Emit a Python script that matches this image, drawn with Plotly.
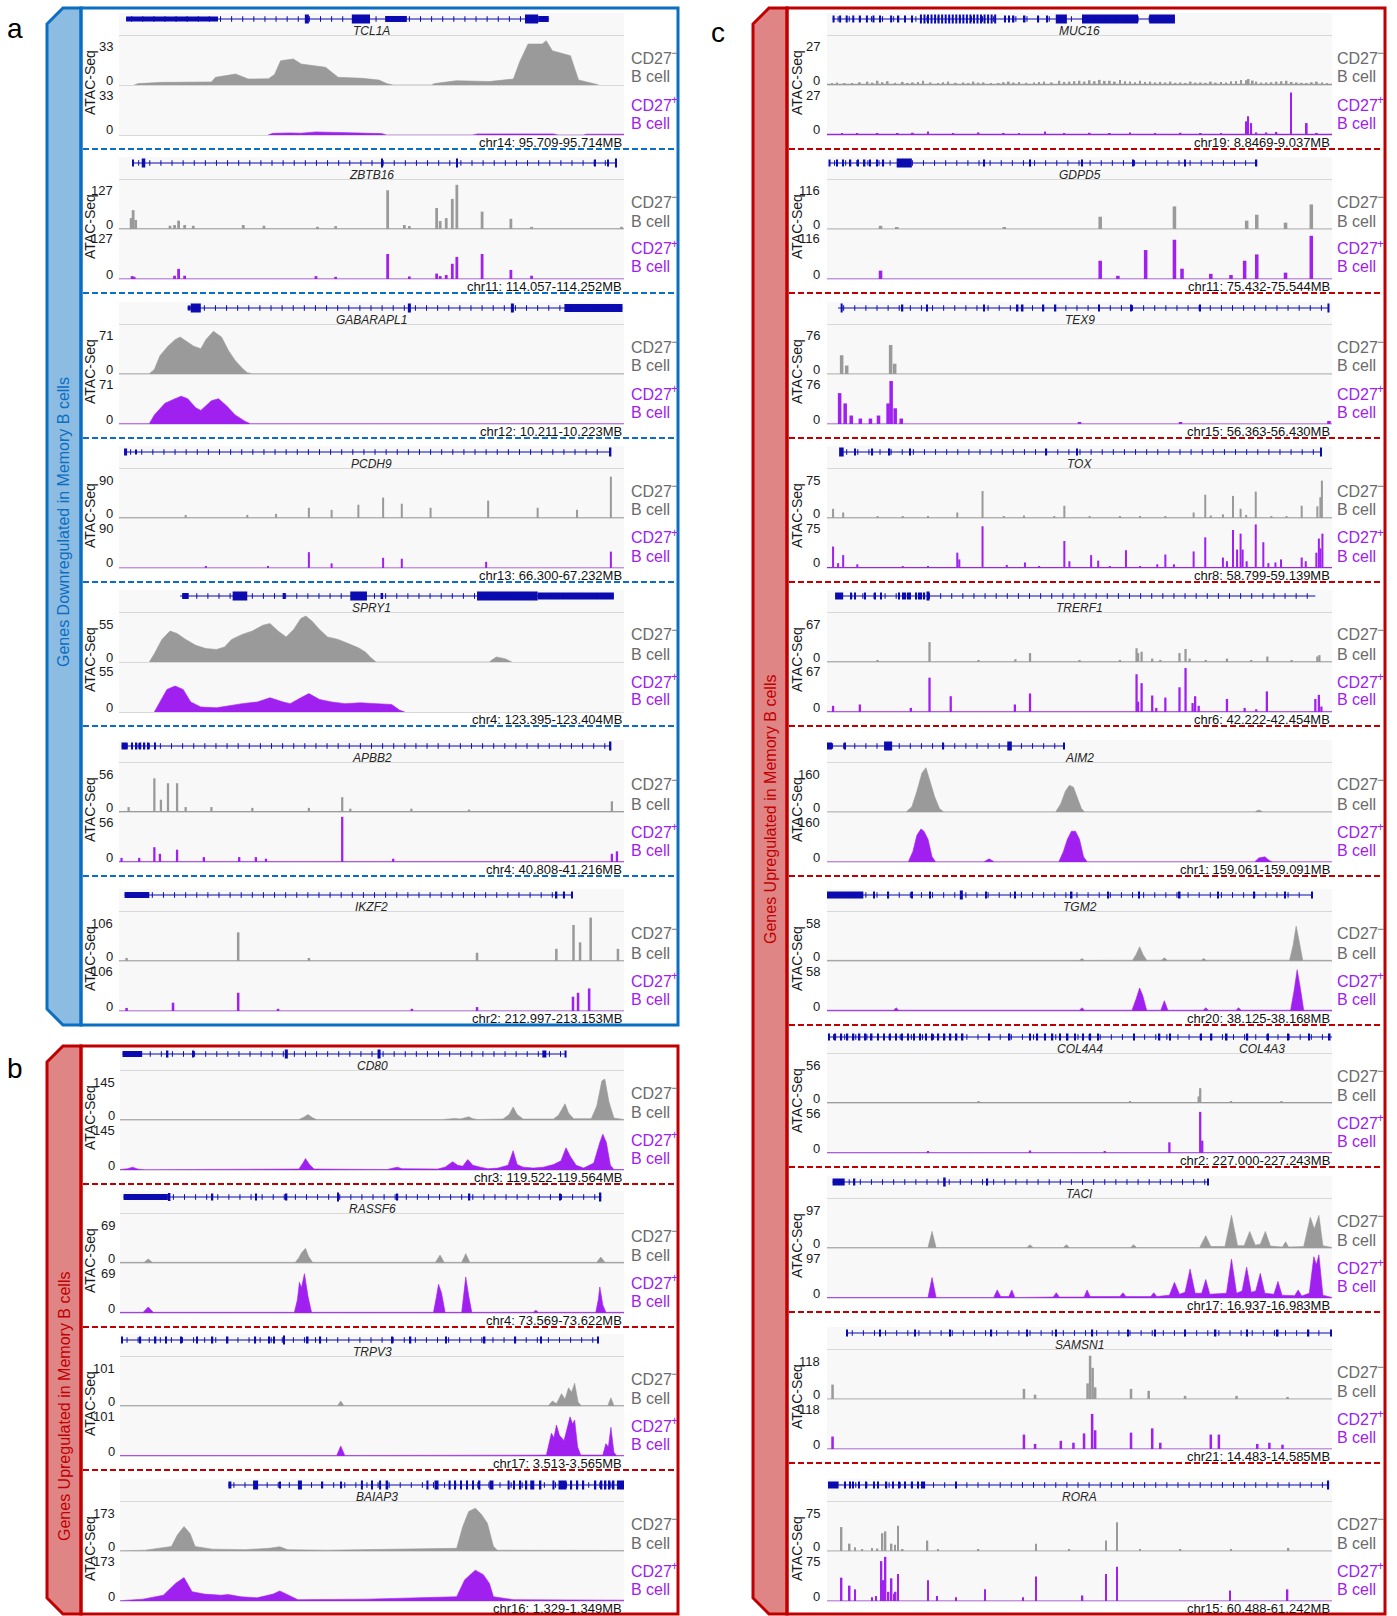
import numpy as np
import plotly.graph_objects as go

# ------------------------------------------------------------------
# ATAC-Seq coverage around selected genes, CD27- vs CD27+ B cells.
# Positions are percent of the displayed locus window (0-100).
# Coverage values are in track units (0 .. track scale).
# Exons: (start, end, drawn height in px).
# ------------------------------------------------------------------

# ----- panel a: genes downregulated in memory B cells -----
TCL1A_LOCUS = "chr14: 95.709-95.714MB"
TCL1A_SCALE = 33
TCL1A_SPAN = (1.4, 85.1)
TCL1A_EXONS = [(1.4, 19.6, 5), (36.8, 37.6, 9), (46.1, 49.7, 9), (52.7, 57.0, 6),
               (80.4, 83.0, 9), (83.0, 85.1, 6)]
TCL1A_NEG = [(3.0, 0), (3.8, 1), (8.6, 1.9), (18.3, 2.2), (19.1, 5.5), (23.1, 7.9), (25.6, 4.3),
             (29.6, 4.5), (30.8, 7.5), (32.0, 17.4), (34.5, 18.7), (36.1, 15), (40.9, 12.7),
             (43.4, 5.5), (48.2, 4.8), (51.5, 3.5), (53.0, 1), (54.3, 0), (61.9, 0), (62.5, 1),
             (66.8, 3.1), (73.3, 2.5), (78.1, 4.3), (79.3, 16.3), (81.0, 29.4), (83.8, 29.4),
             (84.6, 31.8), (85.8, 24.6), (89.4, 21), (91.0, 3.6), (94.3, 0.7), (95.0, 0)]
TCL1A_POS = [(29.5, 0), (30.5, 1.2), (34, 1.5), (36, 1.3), (39, 2.2), (42, 1.8), (46, 1.5),
             (49, 1.2), (52, 1), (53, 0), (70, 0), (71, 0.8), (86, 0.8), (87, 0), (92, 0),
             (92.5, 0.6), (100, 0.6)]

ZBTB16_LOCUS = "chr11: 114.057-114.252MB"
ZBTB16_SCALE = 127
ZBTB16_SPAN = (2.8, 98.5)
ZBTB16_EXONS = [(2.6, 2.9, 7), (4.5, 5.2, 9), (51.9, 52.2, 9), (66.8, 67.1, 9),
                (94.1, 94.4, 7), (96.8, 97.0, 7), (98.3, 98.6, 9)]
ZBTB16_NEG = [(2.4, 30), (2.8, 52), (3.3, 25), (10.1, 9), (11.0, 11), (11.8, 23), (13.0, 11),
              (14.7, 9), (24.6, 11), (28.7, 9), (39.3, 6), (42.9, 8), (53.2, 107), (56.5, 11),
              (57.5, 8), (62.9, 58), (63.6, 22), (64.8, 30), (66.0, 83), (66.9, 122), (71.9, 48),
              (77.6, 28), (81.7, 6), (99.5, 6)]
ZBTB16_POS = [(2.6, 8), (3.0, 6), (11.0, 9), (11.8, 28), (13.0, 9), (39.0, 8), (42.9, 6),
              (53.2, 69), (57.5, 7), (62.9, 15), (63.6, 8), (64.8, 11), (66.0, 42), (66.9, 61),
              (71.9, 69), (77.6, 25), (81.7, 9)]
ZBTB16_FLOOR = (2, 1.5)

GABARAPL1_LOCUS = "chr12: 10.211-10.223MB"
GABARAPL1_SCALE = 71
GABARAPL1_SPAN = (13.6, 99.7)
GABARAPL1_EXONS = [(13.6, 14.2, 5), (14.2, 16.2, 9), (57.2, 57.8, 9), (77.6, 78.2, 9),
                   (88.2, 99.7, 8)]
GABARAPL1_NEG = [(0, 0.5), (6.0, 0.5), (7.0, 7), (8.1, 28), (9.7, 43), (11.1, 53), (12.1, 57),
                 (13.2, 51), (14.8, 43), (16.2, 39), (17.2, 53), (18.7, 66), (20.3, 57), (21.7, 36),
                 (23.0, 21), (24.4, 9), (25.4, 2), (26.4, 0.5), (100, 0.5)]
GABARAPL1_POS = [(0, 0.5), (6.0, 0.5), (7.0, 14), (9.1, 32), (11.1, 39), (12.3, 43), (13.6, 39),
                 (15.2, 25), (16.2, 21), (18.3, 36), (19.7, 39), (21.3, 28), (23.0, 14), (25.0, 4),
                 (26.0, 0.5), (100, 0.5)]

PCDH9_LOCUS = "chr13: 66.300-67.232MB"
PCDH9_SCALE = 90
PCDH9_SPAN = (1.2, 97.4)
PCDH9_EXONS = [(1.0, 1.6, 7), (3.2, 3.5, 5), (97.2, 97.5, 9)]
PCDH9_NEG = [(13.2, 6), (25.4, 6), (31.1, 8), (37.6, 20), (42.1, 16), (47.4, 26), (52.3, 40),
             (56.0, 28), (61.7, 20), (73.1, 34), (82.9, 20), (90.7, 16), (97.4, 81)]
PCDH9_POS = [(17.2, 4), (29.5, 4), (37.6, 31), (42.1, 9), (52.3, 20), (56.0, 18), (72.7, 12),
             (97.4, 32)]
PCDH9_FLOOR = (1.5, 1)

SPRY1_LOCUS = "chr4: 123.395-123.404MB"
SPRY1_SCALE = 55
SPRY1_SPAN = (12.1, 98.0)
SPRY1_EXONS = [(12.5, 13.8, 6), (22.5, 25.4, 9), (32.4, 32.9, 6), (45.8, 49.1, 9),
               (51.8, 52.3, 6), (70.9, 82.9, 9), (82.9, 98.0, 7)]
SPRY1_NEG = [(6.0, 0), (7.0, 10), (8.5, 27), (10.1, 37), (11.5, 34), (13.2, 27), (15.2, 20),
             (17.2, 16), (19.3, 15), (20.9, 18), (22.3, 27), (24.4, 33), (26.4, 37), (28.5, 44),
             (29.9, 46), (31.5, 37), (33.1, 30), (34.6, 39), (36.0, 52), (37.0, 55), (38.2, 49),
             (39.7, 39), (41.3, 30), (43.4, 27), (45.4, 22), (47.4, 17), (48.8, 12), (49.9, 5),
             (50.9, 0), (73.3, 0), (74.7, 6), (76.4, 4), (77.8, 0)]
SPRY1_POS = [(7.0, 0), (8.1, 12), (9.5, 27), (11.1, 31), (12.7, 27), (14.2, 12), (16.2, 6),
             (19.3, 5), (21.3, 7), (24.4, 10), (27.4, 12), (29.9, 17), (32.5, 12), (33.9, 10),
             (36.0, 17), (37.6, 22), (39.7, 15), (42.1, 12), (44.8, 10), (47.8, 11), (50.9, 10),
             (54.0, 9), (55.6, 2), (56.6, 0)]

APBB2_LOCUS = "chr4: 40.808-41.216MB"
APBB2_SCALE = 56
APBB2_SPAN = (0.5, 97.4)
APBB2_EXONS = [(0.5, 1.7, 7), (2.4, 2.7, 7), (3.3, 3.6, 7), (4.1, 4.4, 7), (4.9, 5.2, 7),
               (5.7, 6.0, 7), (7.0, 7.2, 7), (97.2, 97.5, 9)]
APBB2_NEG = [(1.9, 6), (7.0, 41), (8.3, 15), (9.7, 35), (11.5, 35), (13.2, 6), (18.3, 6),
             (26.4, 5), (37.6, 5), (44.2, 18), (45.8, 4), (57.9, 4), (69.3, 3), (97.6, 13)]
APBB2_POS = [(0.5, 5), (4.0, 5), (7.0, 18), (8.1, 10), (11.5, 15), (16.8, 6), (23.8, 6),
             (27.1, 6), (29.1, 4), (44.2, 55), (54.3, 4), (97.6, 10), (98.6, 13)]
APBB2_FLOOR = (1.2, 1)

IKZF2_LOCUS = "chr2: 212.997-213.153MB"
IKZF2_SCALE = 106
IKZF2_SPAN = (1.1, 89.9)
IKZF2_EXONS = [(1.1, 6.0, 6), (86.5, 86.8, 7), (88.0, 88.3, 7), (89.6, 89.9, 7)]
IKZF2_NEG = [(1.5, 7), (23.6, 66), (37.6, 7), (70.9, 19), (86.6, 28), (90.0, 83), (91.3, 43),
             (93.4, 100), (98.8, 28)]
IKZF2_POS = [(1.5, 7), (10.7, 19), (23.6, 42), (31.5, 5), (58.0, 5), (70.9, 9), (89.9, 33),
             (90.9, 42), (93.1, 52)]
IKZF2_FLOOR = (1.5, 1)

# ----- panel b: genes upregulated in memory B cells -----
CD80_LOCUS = "chr3: 119.522-119.564MB"
CD80_SCALE = 145
CD80_SPAN = (0.5, 88.5)
CD80_EXONS = [(0.5, 4.4, 6), (9.3, 9.6, 7), (14.3, 14.6, 7), (32.7, 33.3, 9), (51.1, 51.7, 9),
              (83.8, 84.6, 7), (88.2, 88.6, 7)]
CD80_NEG = [(0, 1.5), (35.5, 1.5), (36.5, 9), (37.3, 17), (38.2, 7), (39, 1.5), (64, 1.5),
            (65.5, 4), (66.5, 5), (67.5, 3), (68.5, 6), (69.2, 10), (70, 4), (71, 1.5), (76, 3),
            (77.2, 17), (78, 41), (78.8, 17), (80, 3), (86, 3), (87, 15), (88.3, 51), (89, 22),
            (90, 4), (93.5, 4), (94.6, 44), (95.6, 123), (96.2, 129), (97, 58), (98, 6),
            (100, 1.5)]
CD80_POS = [(0, 1.5), (1.5, 4), (2.5, 9), (3.5, 3), (5, 1), (35.5, 3), (36.3, 22), (36.8, 36),
            (37.6, 17), (38.5, 3), (53, 1.5), (55, 9), (56, 4), (63, 3), (64.5, 9), (66, 26),
            (67, 15), (68, 12), (69, 33), (70, 15), (71.5, 9), (73, 4), (75, 6), (77, 15),
            (78, 61), (78.8, 17), (80, 9), (82, 6), (84, 9), (86, 17), (87.5, 29), (88.5, 70),
            (89.3, 44), (90.5, 15), (92, 6), (94, 22), (95.2, 87), (95.8, 113), (96.5, 87),
            (97.3, 15), (98, 1.5), (100, 1.5)]

RASSF6_LOCUS = "chr4: 73.569-73.622MB"
RASSF6_SCALE = 69
RASSF6_SPAN = (0.7, 95.5)
RASSF6_EXONS = [(0.7, 9.5, 6), (9.5, 10.0, 8), (18.2, 18.5, 7), (26.8, 27.1, 7), (32.9, 33.2, 7),
                (43.1, 43.4, 9), (54.9, 55.2, 7), (69.2, 69.5, 7), (87.2, 87.5, 7),
                (95.2, 95.5, 9)]
RASSF6_NEG = [(0, 1), (4.8, 1), (5.6, 6), (6.4, 1), (34.8, 1), (35.5, 8), (36.0, 15), (36.8, 22),
              (37.4, 10), (38.2, 1), (62.6, 1), (63.5, 12), (64.3, 1), (67.8, 1), (68.6, 14),
              (69.4, 1), (94.6, 1), (95.4, 9), (96.2, 1), (100, 1)]
RASSF6_POS = [(0, 1), (4.6, 1), (5.6, 9), (6.6, 1), (34.6, 1), (35.2, 20), (35.6, 46), (36.0, 38),
              (36.6, 59), (37.3, 25), (38, 1), (62.2, 1), (62.8, 25), (63.2, 43), (63.8, 30),
              (64.5, 1), (67.8, 1), (68.3, 35), (68.6, 54), (69.2, 25), (69.8, 1), (82.0, 1),
              (82.5, 4), (83.0, 1), (94.4, 1), (94.9, 20), (95.2, 39), (95.8, 12), (96.4, 1),
              (100, 1)]

TRPV3_LOCUS = "chr17: 3.513-3.565MB"
TRPV3_SCALE = 101
TRPV3_SPAN = (0.3, 94.9)
TRPV3_EXONS = [(0.2, 0.5, 7), (3.9, 4.2, 7), (6.9, 7.2, 7), (9.0, 9.3, 7), (12.0, 12.3, 7),
               (15.1, 15.4, 7), (18.2, 18.5, 7), (21.2, 21.5, 7), (26.7, 27.0, 7),
               (29.4, 29.7, 7), (30.4, 30.7, 7), (32.4, 32.7, 9), (37.1, 37.4, 7),
               (39.6, 39.9, 7), (53.9, 54.2, 7), (57.5, 57.8, 7), (64.5, 64.8, 7),
               (72.2, 72.5, 7), (78.3, 78.6, 7), (83.4, 83.7, 7), (94.7, 95.0, 7)]
TRPV3_NEG = [(0, 1), (43.2, 1), (43.8, 11), (44.4, 1), (85.0, 1), (85.8, 11), (86.6, 5),
             (87.6, 27), (88.3, 15), (89.0, 40), (89.6, 30), (90.2, 50), (90.9, 8), (91.5, 1),
             (96.8, 1), (97.4, 18), (98.0, 1), (100, 1)]
TRPV3_POS = [(0, 1), (43.0, 1), (43.8, 22), (44.6, 1), (84.6, 2), (85.6, 50), (86.1, 40),
             (86.6, 68), (87.2, 45), (88.1, 34), (88.7, 60), (89.3, 86), (89.8, 70), (90.2, 79),
             (90.8, 20), (91.4, 2), (95.8, 2), (96.4, 27), (96.9, 20), (97.4, 63), (98.0, 8),
             (98.5, 1), (100, 1)]

BAIAP3_LOCUS = "chr16: 1.329-1.349MB"
BAIAP3_SCALE = 173
BAIAP3_SPAN = (21.5, 100)
BAIAP3_EXONS = [(21.5, 22.1, 7), (26.4, 27.4, 9), (31.6, 31.9, 7), (35.3, 36.1, 9),
                (40.0, 40.3, 7), (43.7, 44.0, 7), (47.8, 48.2, 9), (49.8, 50.2, 9),
                (51.4, 51.8, 9), (52.7, 53.2, 9), (60.8, 61.2, 9), (62.4, 63.2, 9),
                (65.2, 65.6, 9), (66.3, 66.6, 9), (67.5, 67.8, 9), (68.7, 69.0, 9),
                (69.9, 70.2, 9), (71.2, 71.5, 9), (73.3, 74.1, 9), (76.9, 77.3, 9),
                (78.0, 78.3, 9), (79.3, 79.6, 9), (80.5, 80.8, 9), (81.4, 82.2, 9),
                (83.3, 83.6, 9), (85.8, 86.2, 9), (87.0, 88.6, 9), (89.4, 89.7, 9),
                (90.6, 90.9, 9), (91.8, 92.1, 9), (94.2, 94.5, 9), (95.4, 95.7, 9),
                (96.2, 96.5, 9), (97.0, 97.3, 9), (97.8, 98.1, 9), (98.6, 100, 9)]
BAIAP3_NEG = [(0, 1), (5.0, 3), (10.2, 17), (11.4, 61), (12.7, 92), (13.9, 66), (14.9, 17),
              (18.3, 7), (24.8, 5), (29.6, 10), (31.7, 16), (33.3, 5), (40.9, 3), (66.8, 10),
              (68.0, 92), (69.2, 149), (70.5, 161), (71.7, 138), (72.9, 104), (74.1, 17),
              (74.9, 3), (100, 2)]
BAIAP3_POS = [(0, 1), (4.6, 7), (8.6, 22), (11.0, 66), (12.7, 88), (14.3, 35), (16.7, 26),
              (20.0, 22), (21.5, 24), (24.0, 16), (27.2, 12), (30.4, 26), (31.7, 38), (33.3, 22),
              (35.3, 5), (49.0, 7), (66.8, 16), (68.4, 80), (70.5, 116), (72.1, 99), (73.3, 66),
              (74.1, 16), (78.1, 5), (100, 3)]

# ----- panel c: genes upregulated in memory B cells -----
MUC16_LOCUS = "chr19: 8.8469-9.037MB"
MUC16_SCALE = 27
MUC16_SPAN = (1.1, 68.9)
MUC16_EXONS = [(1.1, 1.5, 7), (2.4, 2.8, 7), (3.7, 4.1, 7), (5.0, 5.4, 7), (6.3, 6.7, 7),
               (7.7, 8.1, 7), (9.0, 9.4, 7), (10.3, 10.7, 7), (12.5, 12.9, 7), (14.0, 14.3, 7),
               (15.3, 15.6, 7), (16.7, 17.0, 7), (18.4, 18.8, 9), (19.1, 19.5, 9),
               (19.8, 20.2, 9), (20.5, 20.9, 9), (21.2, 21.6, 9), (21.9, 22.3, 9),
               (22.6, 23.0, 9), (23.3, 23.7, 9), (24.0, 24.4, 9), (24.7, 25.1, 9),
               (25.4, 25.8, 9), (26.1, 26.5, 9), (26.8, 27.2, 9), (27.5, 27.9, 9),
               (28.2, 28.6, 9), (28.9, 29.3, 9), (29.6, 30.0, 9), (30.3, 30.7, 9),
               (31.0, 31.4, 9), (31.7, 32.1, 9), (32.4, 32.8, 9), (33.1, 33.5, 9),
               (35.1, 35.4, 7), (35.9, 36.2, 7), (36.8, 37.1, 7), (39.0, 39.3, 7),
               (41.7, 42.0, 7), (43.4, 43.7, 7), (45.3, 47.5, 9), (50.5, 61.6, 9),
               (63.8, 68.9, 9)]
MUC16_NEG = [(1, 1.2), (2, 1.5), (3.5, 1), (5, 1.2), (6.5, 1.6), (8, 2), (9, 1.4), (10, 2.5),
             (11, 1.6), (12, 2.2), (13.5, 1.3), (15, 1.8), (16, 1.2), (17, 1.5), (18, 1.8),
             (19, 2.5), (20.5, 1.5), (22, 1.2), (23, 1.6), (24, 2), (25.5, 1.3), (27, 1.5),
             (28, 1.2), (29, 2), (30, 1.4), (31, 1.5), (32.5, 1.1), (34, 1.2), (35, 1.6),
             (36, 2), (37, 1.4), (38, 1.8), (39.5, 1.3), (41, 1.5), (42, 1.7), (43, 2),
             (44.5, 1.5), (46, 2.5), (47, 1.8), (48, 2), (49, 2.2), (50, 2.5), (51, 2),
             (52, 2.8), (53, 2.2), (54, 3), (55, 2.4), (56, 2.5), (57, 2), (58, 3), (59, 2.2),
             (60, 2), (61, 1.6), (62, 2.5), (63, 1.8), (64, 2), (65, 1.5), (66, 1.8), (67, 1.5),
             (68, 2), (69, 1.3), (70, 1.5), (71, 1.2), (72, 2), (73, 1.4), (74, 1.5), (75, 1.3),
             (76, 2), (77, 1.4), (78, 1.8), (79, 1.5), (80, 2.2), (81, 2.4), (82, 3), (83, 2.8),
             (83.5, 3.5), (84.3, 2.6), (85, 2), (86, 1.4), (87, 1.5), (88, 1.6), (89, 2),
             (90, 2.2), (91, 2.5), (92, 1.8), (93, 1.5), (94, 1.3), (95, 1.2), (96, 1.6),
             (97, 2), (98, 1.4), (99, 1.2)]
MUC16_POS = [(3, 1), (6, 1.1), (10, 1.2), (14, 1), (17, 1.3), (20, 2), (25, 1.2), (30, 1.5),
             (35, 1.2), (38, 1.1), (43.2, 2), (47, 1.2), (52, 1.3), (56, 1.1), (60, 1.5),
             (65, 1.2), (70, 1.3), (74, 1.1), (78, 1.2), (83.1, 8), (83.4, 11), (84.0, 7),
             (85, 1.5), (87, 1.5), (89, 1.8), (91.9, 25), (95.0, 7), (97, 1.2)]
MUC16_FLOOR = (0.8, 0.8)

GDPD5_LOCUS = "chr11: 75.432-75.544MB"
GDPD5_SCALE = 116
GDPD5_SPAN = (0.4, 85.1)
GDPD5_EXONS = [(0.3, 0.7, 7), (1.8, 2.1, 7), (3.0, 3.3, 7), (4.5, 4.8, 7), (6.0, 6.3, 7),
               (7.3, 7.6, 7), (8.4, 8.7, 7), (9.8, 10.1, 7), (11.0, 11.3, 7), (13.8, 16.8, 9),
               (31.0, 31.3, 7), (40.1, 40.4, 7), (50.3, 50.6, 7), (60.5, 60.8, 7),
               (70.7, 71.0, 7), (84.9, 85.2, 7)]
GDPD5_NEG = [(10.6, 8), (13.8, 5), (35.1, 5), (54.1, 31), (68.8, 57), (83.1, 21), (85.1, 36),
             (90.8, 16), (95.9, 62)]
GDPD5_POS = [(10.6, 21), (54.1, 46), (57.6, 8), (63.1, 73), (68.8, 99), (70.3, 26), (76.0, 13),
             (80.0, 10), (82.7, 46), (85.1, 62), (90.8, 16), (95.9, 109)]
GDPD5_FLOOR = (1.5, 1.5)

TEX9_LOCUS = "chr15: 56.363-56.430MB"
TEX9_SCALE = 76
TEX9_SPAN = (2.2, 99.4)
TEX9_EXONS = [(2.7, 3.1, 9), (14.8, 15.1, 7), (19.7, 20.0, 7), (30.9, 31.2, 7), (37.6, 37.9, 7),
              (38.6, 38.9, 7), (42.7, 43.0, 7), (45.1, 45.4, 7), (53.7, 54.0, 7),
              (60.0, 60.3, 7), (73.7, 74.0, 7), (99.1, 99.5, 9)]
TEX9_NEG = [(2.9, 31), (3.9, 14), (12.6, 48), (13.4, 17)]
TEX9_POS = [(2.5, 51), (3.6, 34), (4.8, 14), (6.6, 9), (8.6, 9), (10.2, 14), (12.1, 34),
            (12.7, 71), (13.5, 26), (14.7, 9), (50, 2), (70, 2), (99.4, 5)]
TEX9_FLOOR = (0.8, 1)

TOX_LOCUS = "chr8: 58.799-59.139MB"
TOX_SCALE = 75
TOX_SPAN = (2.8, 97.9)
TOX_EXONS = [(2.4, 3.3, 9), (5.4, 5.6, 7), (8.9, 9.1, 7), (12.3, 12.5, 7), (16.3, 16.5, 7),
             (43.2, 43.4, 7), (49.4, 49.6, 7), (97.8, 98.0, 9)]
TOX_NEG = [(1.2, 15), (3.2, 9), (10, 3), (15, 2.5), (20, 3), (25.8, 9), (30.8, 44), (35, 3),
           (39.0, 4), (45, 2.5), (47.0, 20), (52, 3), (58, 2), (62, 3), (67, 3), (72.6, 9),
           (74.9, 38), (76, 4), (78.4, 6), (80.4, 36), (81.9, 15), (83, 5), (84.9, 43), (88, 3),
           (91, 3), (94.0, 20), (97.1, 19), (97.7, 34), (98.0, 61)]
TOX_POS = [(1.2, 35), (2.2, 8), (3.2, 21), (6.0, 6), (15, 3), (20, 3), (25.8, 25), (26.2, 14),
           (30.8, 68), (35.6, 5), (39.2, 9), (42, 3), (47.0, 44), (48.0, 11), (52.3, 21),
           (53.7, 12), (56, 3), (59.2, 29), (62, 3), (65.4, 6), (67.0, 22), (68.7, 6), (72.6, 27),
           (74.9, 50), (78.4, 17), (79.2, 11), (80.4, 62), (81.2, 30), (81.9, 56), (82.3, 30),
           (83.1, 11), (84.9, 71), (86.4, 42), (87.4, 8), (88.8, 9), (89.9, 14), (94.0, 17),
           (94.8, 11), (96.9, 25), (97.4, 48), (97.7, 32), (98.1, 56)]
TOX_FLOOR = (1.2, 1.5)

TRERF1_LOCUS = "chr6: 42.222-42.454MB"
TRERF1_SCALE = 67
TRERF1_SPAN = (1.6, 96.7)
TRERF1_EXONS = [(1.6, 3.2, 7), (4.7, 4.9, 7), (5.5, 5.7, 7), (7.5, 7.7, 7), (9.4, 9.6, 7),
                (10.6, 10.8, 7), (14.1, 14.3, 7), (14.9, 15.1, 7), (15.3, 15.5, 7),
                (16.0, 16.2, 7), (16.4, 16.6, 7), (17.6, 17.8, 7), (18.1, 18.3, 7),
                (18.6, 18.8, 7), (19.2, 19.4, 7), (19.7, 20.3, 9)]
TRERF1_NEG = [(10, 2), (20.3, 29), (30, 2), (37.3, 4), (40.2, 13), (50, 2), (58, 3), (61.3, 20),
              (61.6, 13), (62.3, 15), (64.4, 5), (66, 3), (69.8, 13), (71.0, 19), (71.8, 5),
              (75, 3), (79.2, 5), (84, 3), (87.2, 8), (92, 3), (97.1, 8), (97.5, 10)]
TRERF1_POS = [(1.2, 9), (6.5, 11), (16.6, 6), (20.3, 50), (24.5, 23), (37.2, 11), (40.2, 27),
              (61.3, 55), (61.6, 15), (62.3, 42), (64.4, 24), (65.2, 6), (67.0, 21), (69.8, 36),
              (71.0, 64), (72.4, 13), (72.9, 23), (73.6, 9), (79.2, 19), (82.7, 6), (85.0, 4),
              (87.1, 30), (96.7, 19), (97.4, 25), (97.9, 8)]
TRERF1_FLOOR = (1.2, 1)

AIM2_LOCUS = "chr1: 159.061-159.091MB"
AIM2_SCALE = 160
AIM2_SPAN = (0.0, 47.0)
AIM2_EXONS = [(0.0, 1.0, 7), (3.4, 3.7, 7), (11.3, 12.9, 9), (22.8, 23.1, 7), (35.7, 36.6, 9),
              (46.8, 47.1, 7)]
AIM2_NEG = [(0, 0.5), (15.7, 0.5), (16.8, 18), (17.8, 72), (18.8, 136), (19.6, 154), (20.4, 107),
            (21.3, 54), (22.3, 11), (23.1, 0.5), (45.3, 0.5), (46.3, 29), (47.2, 72), (48.0, 93),
            (48.8, 86), (49.6, 50), (50.4, 11), (51.0, 0.5), (84.7, 0.5), (85.5, 7), (86.3, 0.5),
            (100, 0.5)]
AIM2_POS = [(0, 0.5), (16.1, 0.5), (17.0, 36), (17.8, 93), (18.6, 115), (19.2, 107), (20.0, 79),
            (20.8, 18), (21.5, 0.5), (31.1, 0.5), (32.1, 11), (33.1, 0.5), (45.9, 0.5),
            (46.8, 36), (47.6, 79), (48.4, 107), (49.2, 107), (50.0, 79), (50.8, 18),
            (51.5, 0.5), (84.7, 0.5), (85.5, 14), (86.7, 18), (87.6, 5), (88.2, 0.5), (100, 0.5)]

TGM2_LOCUS = "chr20: 38.125-38.168MB"
TGM2_SCALE = 58
TGM2_SPAN = (0.0, 96.0)
TGM2_EXONS = [(0.0, 7.2, 7), (9.2, 9.5, 7), (12.0, 12.3, 7), (16.7, 17.0, 7), (20.2, 20.5, 7),
              (26.3, 26.9, 9), (31.4, 31.7, 7), (37.1, 37.4, 7), (48.3, 48.6, 7),
              (55.5, 55.8, 7), (61.6, 61.9, 7), (69.7, 70.0, 7), (77.3, 77.6, 7),
              (84.4, 84.7, 7), (90.5, 90.8, 7), (95.9, 96.2, 7)]
TGM2_NEG = [(0, 0.8), (50.0, 0.8), (50.5, 3), (51.0, 0.8), (60.5, 1), (61.2, 8), (61.9, 18),
            (62.6, 8), (63.3, 1), (66.2, 1), (66.8, 4), (67.4, 1), (74.1, 1), (74.6, 3),
            (75.1, 1), (91.6, 1), (92.3, 20), (92.9, 44), (93.5, 25), (94.2, 1), (100, 0.8)]
TGM2_POS = [(0, 1), (13.2, 1), (13.7, 4), (14.2, 1), (50, 1), (50.5, 4), (51, 1), (60.4, 1),
            (61.2, 15), (61.9, 29), (62.5, 20), (63.3, 1), (66.1, 1), (66.8, 13), (67.5, 1),
            (74.5, 1), (75, 4), (75.5, 1), (81, 1), (81.5, 4), (82, 1), (91.8, 1), (92.5, 26),
            (93.1, 52), (93.7, 30), (94.4, 1), (100, 1)]

COL4A4_LOCUS = "chr2: 227.000-227.243MB"
COL4A4_SCALE = 56
COL4A4_SPAN = (0.2, 100)
COL4A4_EXONS = [(0.2, 0.5, 7), (1.5, 1.8, 7), (2.7, 3.0, 7), (3.9, 4.2, 7), (5.1, 5.4, 7),
                (6.3, 6.6, 7), (7.5, 7.8, 7), (8.7, 9.0, 7), (9.9, 10.2, 7), (11.1, 11.4, 7),
                (12.3, 12.6, 7), (13.5, 13.8, 7), (14.7, 15.0, 7), (15.9, 16.2, 7),
                (17.1, 17.4, 7), (18.3, 18.6, 7), (19.5, 19.8, 7), (20.7, 21.0, 7),
                (21.9, 22.2, 7), (23.1, 23.4, 7), (24.3, 24.6, 7), (25.5, 25.8, 7),
                (26.7, 27.0, 7), (32.0, 32.3, 7), (36.0, 36.3, 7), (40.0, 40.3, 7),
                (41.5, 41.8, 7), (43.0, 43.3, 7), (44.5, 44.8, 7), (46.0, 46.3, 7),
                (47.5, 47.8, 7), (49.0, 49.3, 7), (50.5, 50.8, 7), (52.0, 52.3, 7),
                (53.5, 53.8, 7), (60.6, 60.9, 7), (65.7, 66.0, 7), (67.8, 68.1, 7),
                (73.9, 74.2, 7), (76.0, 76.3, 7), (79.0, 79.3, 7), (83.1, 83.4, 7),
                (87.2, 87.5, 7), (91.2, 91.5, 7), (95.3, 95.6, 7), (99.4, 99.7, 7)]
COL4A4_NEG = [(30, 2), (60, 2), (73.6, 8), (73.9, 18), (80, 2), (90, 2)]
COL4A4_POS = [(20, 2), (40.2, 3), (55, 2), (67.8, 13), (73.9, 50), (74.3, 15)]
COL4A4_FLOOR = (1.2, 1)

TACI_LOCUS = "chr17: 16.937-16.983MB"
TACI_SCALE = 97
TACI_SPAN = (1.1, 75.5)
TACI_EXONS = [(1.1, 3.5, 7), (5.3, 5.6, 7), (23.0, 23.5, 9), (31.6, 31.9, 7), (75.3, 75.6, 7)]
TACI_NEG = [(0, 1), (20.0, 1), (20.8, 35), (21.6, 1), (39.6, 1), (40.2, 7), (40.8, 1), (46.8, 1),
            (47.4, 7), (48, 1), (60.1, 1), (60.7, 7), (61.3, 1), (73.8, 1), (75.0, 26), (76.0, 3),
            (78.8, 3), (80.1, 69), (81.3, 5), (82.6, 5), (83.7, 35), (84.8, 6), (85.8, 8),
            (86.8, 35), (87.8, 4), (90.2, 2), (90.8, 13), (91.4, 2), (94.4, 3), (95.7, 65),
            (96.5, 40), (97.4, 69), (98.2, 5), (100, 1)]
TACI_POS = [(0, 1), (20.0, 1), (20.8, 43), (21.6, 1), (33.0, 1), (33.7, 17), (34.4, 3), (36.0, 3),
            (36.6, 17), (37.2, 1), (44.8, 2), (45.4, 11), (46, 2), (50.9, 2), (51.5, 17),
            (52.1, 3), (58.0, 3), (58.6, 11), (59.2, 3), (64.1, 3), (64.7, 11), (65.3, 3),
            (67.8, 6), (68.8, 33), (69.8, 8), (70.9, 12), (71.9, 61), (72.9, 10), (74.2, 10),
            (75.0, 39), (75.8, 8), (79.1, 10), (80.1, 82), (81.1, 10), (82.2, 15), (83.1, 65),
            (84.0, 12), (84.9, 15), (85.8, 52), (86.7, 10), (88.5, 8), (89.3, 35), (90.1, 6),
            (92.6, 5), (93.3, 17), (94, 4), (95.5, 10), (96.4, 87), (96.9, 70), (97.4, 91),
            (98.2, 6), (100, 1)]

SAMSN1_LOCUS = "chr21: 14.483-14.585MB"
SAMSN1_SCALE = 118
SAMSN1_SPAN = (3.9, 100)
SAMSN1_EXONS = [(3.8, 4.1, 7), (10.3, 10.6, 7), (17.3, 17.6, 7), (24.2, 24.5, 7),
                (32.4, 32.7, 7), (39.5, 39.8, 7), (45.2, 45.5, 7), (52.4, 52.7, 7),
                (59.5, 59.8, 7), (64.8, 65.1, 7), (70.7, 71.0, 7), (76.8, 77.1, 7),
                (83.0, 83.3, 7), (89.1, 89.4, 7), (95.2, 95.5, 7), (99.7, 100, 7)]
SAMSN1_NEG = [(1.1, 37), (39.0, 26), (41.2, 11), (51.6, 40), (52.1, 111), (52.6, 80), (53.1, 30),
              (60.2, 26), (63.7, 21), (70.9, 8), (81.1, 8), (91.2, 5)]
SAMSN1_POS = [(1.1, 32), (39.0, 37), (41.2, 13), (46.3, 21), (48.8, 16), (50.9, 40), (52.5, 90),
              (53.1, 48), (60.2, 42), (64.4, 53), (66.0, 16), (76.0, 37), (77.6, 37), (85.2, 13),
              (87.6, 16), (90.2, 11)]
SAMSN1_FLOOR = (1.5, 1.5)

RORA_LOCUS = "chr15: 60.488-61.242MB"
RORA_SCALE = 75
RORA_SPAN = (0.2, 99.3)
RORA_EXONS = [(0.2, 2.3, 7), (3.4, 3.6, 7), (4.4, 4.6, 7), (5.1, 5.3, 7), (6.3, 6.5, 7),
              (7.6, 7.8, 7), (9.2, 9.4, 7), (10.0, 10.2, 7), (11.7, 11.9, 7), (12.9, 13.1, 7),
              (14.2, 14.4, 7), (15.4, 15.6, 7), (16.7, 16.9, 7), (17.9, 18.1, 7),
              (18.8, 19.0, 7), (19.2, 19.4, 7), (25.4, 25.6, 7), (99.2, 99.4, 9)]
RORA_NEG = [(2.9, 39), (4.5, 12), (5.6, 6), (7, 3), (8.9, 5), (10, 4), (11.0, 29), (11.6, 32),
            (12.8, 12), (13.5, 10), (14.1, 41), (15, 3), (19.9, 17), (22, 2), (30, 2), (41.4, 12),
            (48, 2), (55.2, 17), (57.4, 47), (62, 2), (70, 2), (80, 2), (91.4, 5)]
RORA_POS = [(2.9, 38), (4.5, 25), (5.6, 19), (8.9, 6), (9.7, 8), (10.8, 65), (11.2, 34),
            (11.6, 72), (12.2, 15), (12.8, 37), (13.3, 12), (13.6, 15), (14.1, 44), (20.0, 34),
            (21.8, 8), (25.5, 6), (31.3, 19), (38.8, 6), (41.4, 40), (50.6, 9), (55.2, 44),
            (57.4, 56), (79.8, 17), (91.2, 19)]
RORA_FLOOR = (0.8, 1)


def gene(labels, locus, scale, span, exons, neg, pos, floor=None, kind="area", bar=0.5):
    return dict(labels=labels, locus=locus, scale=scale, span=span, exons=exons,
                neg=neg, pos=pos, floor=floor, kind=kind, bar=bar)


GENES = {
    "TCL1A": gene([("TCL1A", 50)], TCL1A_LOCUS, TCL1A_SCALE, TCL1A_SPAN, TCL1A_EXONS,
                  TCL1A_NEG, TCL1A_POS),
    "ZBTB16": gene([("ZBTB16", 50)], ZBTB16_LOCUS, ZBTB16_SCALE, ZBTB16_SPAN, ZBTB16_EXONS,
                   ZBTB16_NEG, ZBTB16_POS, ZBTB16_FLOOR, "spike", 0.55),
    "GABARAPL1": gene([("GABARAPL1", 50)], GABARAPL1_LOCUS, GABARAPL1_SCALE, GABARAPL1_SPAN,
                      GABARAPL1_EXONS, GABARAPL1_NEG, GABARAPL1_POS),
    "PCDH9": gene([("PCDH9", 50)], PCDH9_LOCUS, PCDH9_SCALE, PCDH9_SPAN, PCDH9_EXONS,
                  PCDH9_NEG, PCDH9_POS, PCDH9_FLOOR, "spike", 0.4),
    "SPRY1": gene([("SPRY1", 50)], SPRY1_LOCUS, SPRY1_SCALE, SPRY1_SPAN, SPRY1_EXONS,
                  SPRY1_NEG, SPRY1_POS),
    "APBB2": gene([("APBB2", 50)], APBB2_LOCUS, APBB2_SCALE, APBB2_SPAN, APBB2_EXONS,
                  APBB2_NEG, APBB2_POS, APBB2_FLOOR, "spike", 0.45),
    "IKZF2": gene([("IKZF2", 50)], IKZF2_LOCUS, IKZF2_SCALE, IKZF2_SPAN, IKZF2_EXONS,
                  IKZF2_NEG, IKZF2_POS, IKZF2_FLOOR, "spike", 0.5),
    "CD80": gene([("CD80", 50)], CD80_LOCUS, CD80_SCALE, CD80_SPAN, CD80_EXONS,
                 CD80_NEG, CD80_POS),
    "RASSF6": gene([("RASSF6", 50)], RASSF6_LOCUS, RASSF6_SCALE, RASSF6_SPAN, RASSF6_EXONS,
                   RASSF6_NEG, RASSF6_POS),
    "TRPV3": gene([("TRPV3", 50)], TRPV3_LOCUS, TRPV3_SCALE, TRPV3_SPAN, TRPV3_EXONS,
                  TRPV3_NEG, TRPV3_POS),
    "BAIAP3": gene([("BAIAP3", 51)], BAIAP3_LOCUS, BAIAP3_SCALE, BAIAP3_SPAN, BAIAP3_EXONS,
                   BAIAP3_NEG, BAIAP3_POS),
    "MUC16": gene([("MUC16", 50)], MUC16_LOCUS, MUC16_SCALE, MUC16_SPAN, MUC16_EXONS,
                  MUC16_NEG, MUC16_POS, MUC16_FLOOR, "spike", 0.35),
    "GDPD5": gene([("GDPD5", 50)], GDPD5_LOCUS, GDPD5_SCALE, GDPD5_SPAN, GDPD5_EXONS,
                  GDPD5_NEG, GDPD5_POS, GDPD5_FLOOR, "spike", 0.7),
    "TEX9": gene([("TEX9", 50)], TEX9_LOCUS, TEX9_SCALE, TEX9_SPAN, TEX9_EXONS,
                 TEX9_NEG, TEX9_POS, TEX9_FLOOR, "spike", 0.7),
    "TOX": gene([("TOX", 50)], TOX_LOCUS, TOX_SCALE, TOX_SPAN, TOX_EXONS,
                TOX_NEG, TOX_POS, TOX_FLOOR, "spike", 0.4),
    "TRERF1": gene([("TRERF1", 50)], TRERF1_LOCUS, TRERF1_SCALE, TRERF1_SPAN, TRERF1_EXONS,
                   TRERF1_NEG, TRERF1_POS, TRERF1_FLOOR, "spike", 0.45),
    "AIM2": gene([("AIM2", 50)], AIM2_LOCUS, AIM2_SCALE, AIM2_SPAN, AIM2_EXONS,
                 AIM2_NEG, AIM2_POS),
    "TGM2": gene([("TGM2", 50)], TGM2_LOCUS, TGM2_SCALE, TGM2_SPAN, TGM2_EXONS,
                 TGM2_NEG, TGM2_POS),
    "COL4A4": gene([("COL4A4", 50.1), ("COL4A3", 86.2)], COL4A4_LOCUS, COL4A4_SCALE,
                   COL4A4_SPAN, COL4A4_EXONS, COL4A4_NEG, COL4A4_POS, COL4A4_FLOOR,
                   "spike", 0.45),
    "TACI": gene([("TACI", 50)], TACI_LOCUS, TACI_SCALE, TACI_SPAN, TACI_EXONS,
                 TACI_NEG, TACI_POS),
    "SAMSN1": gene([("SAMSN1", 50)], SAMSN1_LOCUS, SAMSN1_SCALE, SAMSN1_SPAN, SAMSN1_EXONS,
                   SAMSN1_NEG, SAMSN1_POS, SAMSN1_FLOOR, "spike", 0.5),
    "RORA": gene([("RORA", 50)], RORA_LOCUS, RORA_SCALE, RORA_SPAN, RORA_EXONS,
                 RORA_NEG, RORA_POS, RORA_FLOOR, "spike", 0.3),
}

# ----- colours and fonts -----
FONT = "Liberation Sans, Arial, Helvetica, sans-serif"
GREY = "#9a9a9a"
GREY_TEXT = "#6b6b6b"
PURPLE = "#a020f0"
GENE_BLUE = "#0b0bb0"
TRACK_BG = "#f8f8f8"
BASE_LINE = "#d8d8d8"
BLUE = "#0a6ec2"
BLUE_FILL = "#8dbce3"
RED = "#c00000"
RED_FILL = "#e08585"

# ----- panel layout (pixel geometry) -----
PANELS = [
    dict(letter="a", letter_xy=(15, 29),
         genes=["TCL1A", "ZBTB16", "GABARAPL1", "PCDH9", "SPRY1", "APBB2", "IKZF2"],
         bottoms=[149, 293, 438, 582, 726, 876, 1025],
         track_x=(119, 624), num_x=115, atac_x=90, side_x=629,
         frame=(81, 8, 678, 1025), tab_x=47, color=BLUE, fill=BLUE_FILL,
         title="Genes Downregulated in Memory B cells", title_xy=(64, 522)),
    dict(letter="b", letter_xy=(15, 1068),
         genes=["CD80", "RASSF6", "TRPV3", "BAIAP3"],
         bottoms=[1184, 1327, 1470, 1615],
         track_x=(120, 624), num_x=117, atac_x=90, side_x=629,
         frame=(81, 1046, 678, 1614), tab_x=47, color=RED, fill=RED_FILL,
         title="Genes Upregulated in Memory B cells", title_xy=(64, 1407)),
    dict(letter="c", letter_xy=(718, 32),
         genes=["MUC16", "GDPD5", "TEX9", "TOX", "TRERF1", "AIM2", "TGM2", "COL4A4", "TACI",
                "SAMSN1", "RORA"],
         bottoms=[149, 293, 438, 582, 726, 876, 1025, 1167, 1312, 1463, 1615],
         track_x=(827, 1332), num_x=822, atac_x=797, side_x=1335,
         frame=(787, 8, 1385, 1614), tab_x=753, color=RED, fill=RED_FILL,
         title="Genes Upregulated in Memory B cells", title_xy=(770, 810)),
]

W, H = 1397, 1616


def fx(px):
    return px / W


def fy(py):
    return 1 - py / H


def text(t, x, y, size, color="#1a1a1a", xanchor="center", angle=0):
    return dict(text=t, x=fx(x), y=fy(y), xref="paper", yref="paper", showarrow=False,
                xanchor=xanchor, yanchor="middle", textangle=angle,
                font=dict(family=FONT, size=size, color=color))


fig = go.Figure()
layout = {}
annotations = []
shapes = []
axis_n = [0]


def new_axes(x0, x1, ytop, ybot, yrange, line=True):
    axis_n[0] += 1
    n = axis_n[0]
    s = "" if n == 1 else str(n)
    layout["xaxis" + s] = dict(domain=[fx(x0), fx(x1)], range=[0, 100], anchor="y" + s,
                               showgrid=False, zeroline=False, showticklabels=False,
                               ticks="", showline=line, linecolor=BASE_LINE, linewidth=1,
                               fixedrange=True)
    layout["yaxis" + s] = dict(domain=[fy(ybot), fy(ytop)], range=yrange, anchor="x" + s,
                               showgrid=False, zeroline=False, showticklabels=False,
                               ticks="", showline=False, fixedrange=True)
    return "x" + s, "y" + s


def add_signal(g, values, xr, yr, color, floor):
    xs = [p for p, _ in values]
    ys = [v for _, v in values]
    if g["kind"] == "area":
        fig.add_trace(go.Scatter(x=xs, y=ys, mode="lines", fill="tozeroy", fillcolor=color,
                                 line=dict(color=color, width=0.6), xaxis=xr, yaxis=yr,
                                 hoverinfo="skip", showlegend=False))
    else:
        if floor:
            fig.add_trace(go.Scatter(x=[0, 100], y=[floor, floor], mode="lines",
                                     fill="tozeroy", fillcolor=color,
                                     line=dict(color=color, width=0), xaxis=xr, yaxis=yr,
                                     hoverinfo="skip", showlegend=False))
        fig.add_trace(go.Bar(x=xs, y=ys, width=g["bar"],
                             marker=dict(color=color, line=dict(width=0)),
                             xaxis=xr, yaxis=yr, hoverinfo="skip", showlegend=False))


for panel in PANELS:
    x0, x1 = panel["track_x"]
    for key, b in zip(panel["genes"], panel["bottoms"]):
        g = GENES[key]
        # gene model track: 1 y-unit = 1 px, intron line at y = 0
        xr, yr = new_axes(x0, x1, b - 136, b - 114, [-16, 6])
        s0, s1 = g["span"]
        fig.add_trace(go.Scatter(x=[s0, s1], y=[0, 0], mode="lines",
                                 line=dict(color=GENE_BLUE, width=1), xaxis=xr, yaxis=yr,
                                 hoverinfo="skip", showlegend=False))
        # strand chevrons along the intron line
        chev = np.arange(s0 + 1.1, s1 - 0.5, 2.2)
        fig.add_trace(go.Scatter(x=chev, y=np.zeros_like(chev), mode="markers",
                                 marker=dict(symbol="line-ns", size=4,
                                             line=dict(color=GENE_BLUE, width=1)),
                                 xaxis=xr, yaxis=yr, hoverinfo="skip", showlegend=False))
        ex = g["exons"]
        fig.add_trace(go.Bar(x=[(a + c) / 2 for a, c, _ in ex], y=[h for _, _, h in ex],
                             base=[-h / 2 for _, _, h in ex],
                             width=[max(c - a, 0.25) for a, c, _ in ex],
                             marker=dict(color=GENE_BLUE, line=dict(width=0)),
                             xaxis=xr, yaxis=yr, hoverinfo="skip", showlegend=False))
        for name, pos in g["labels"]:
            annotations.append(dict(text="<i>" + name + "</i>", x=pos, y=-12, xref=xr, yref=yr,
                                    showarrow=False, xanchor="center", yanchor="middle",
                                    font=dict(family=FONT, size=12, color="#262626")))

        top = g["scale"] * 50 / 46.0
        fl = g["floor"] or (0, 0)
        # CD27- coverage
        xr, yr = new_axes(x0, x1, b - 114, b - 64, [0, top])
        add_signal(g, g["neg"], xr, yr, GREY, fl[0])
        # CD27+ coverage
        xr, yr = new_axes(x0, x1, b - 64, b - 14, [0, top])
        add_signal(g, g["pos"], xr, yr, PURPLE, fl[1])

        nx = panel["num_x"]
        sx = panel["side_x"]
        annotations += [
            text(str(g["scale"]), nx, b - 102, 13, xanchor="right"),
            text("0", nx, b - 69, 13, xanchor="right"),
            text(str(g["scale"]), nx, b - 54, 13, xanchor="right"),
            text("0", nx, b - 19, 13, xanchor="right"),
            text("ATAC-Seq", panel["atac_x"], b - 66, 14, angle=-90),
            text(g["locus"], x1, b - 6.5, 13, color="#111111", xanchor="right"),
            # side labels; the sign is set as a raised, smaller glyph after "CD27"
            text("CD27", sx, b - 91, 16, GREY_TEXT, xanchor="left"),
            text("\u2212", sx + 40, b - 96, 12, GREY_TEXT, xanchor="left"),
            text("B cell", sx, b - 72, 16, GREY_TEXT, xanchor="left"),
            text("CD27", sx, b - 44, 16, PURPLE, xanchor="left"),
            text("+", sx + 40, b - 49, 12, PURPLE, xanchor="left"),
            text("B cell", sx, b - 26, 16, PURPLE, xanchor="left"),
        ]

    # frame, side tab and block separators
    l, t, r, bt = panel["frame"]
    tx = panel["tab_x"]
    col = panel["color"]
    cut = 16
    path = (f"M {fx(tx)},{fy(t + cut)} L {fx(tx + cut)},{fy(t)} L {fx(l)},{fy(t)} "
            f"L {fx(l)},{fy(bt)} L {fx(tx + cut)},{fy(bt)} L {fx(tx)},{fy(bt - cut)} Z")
    shapes.append(dict(type="path", path=path, xref="paper", yref="paper",
                       fillcolor=panel["fill"], line=dict(color=col, width=3), layer="above"))
    shapes.append(dict(type="rect", x0=fx(l), x1=fx(r), y0=fy(bt), y1=fy(t), xref="paper",
                       yref="paper", line=dict(color=col, width=3), layer="above"))
    for yb in panel["bottoms"][:-1]:
        shapes.append(dict(type="line", x0=fx(l + 2), x1=fx(r - 2), y0=fy(yb), y1=fy(yb),
                           xref="paper", yref="paper",
                           line=dict(color=col, width=2, dash="6px,3px"), layer="above"))
    annotations.append(text(panel["title"], *panel["title_xy"], 16, col, angle=-90))
    annotations.append(text(panel["letter"], *panel["letter_xy"], 28, "#000000"))

layout.update(dict(width=W, height=H, margin=dict(l=0, r=0, t=0, b=0),
                   paper_bgcolor="white", plot_bgcolor=TRACK_BG, barmode="overlay",
                   showlegend=False, annotations=annotations, shapes=shapes,
                   font=dict(family=FONT)))
fig.update_layout(**layout)
fig.write_html("out.html")
